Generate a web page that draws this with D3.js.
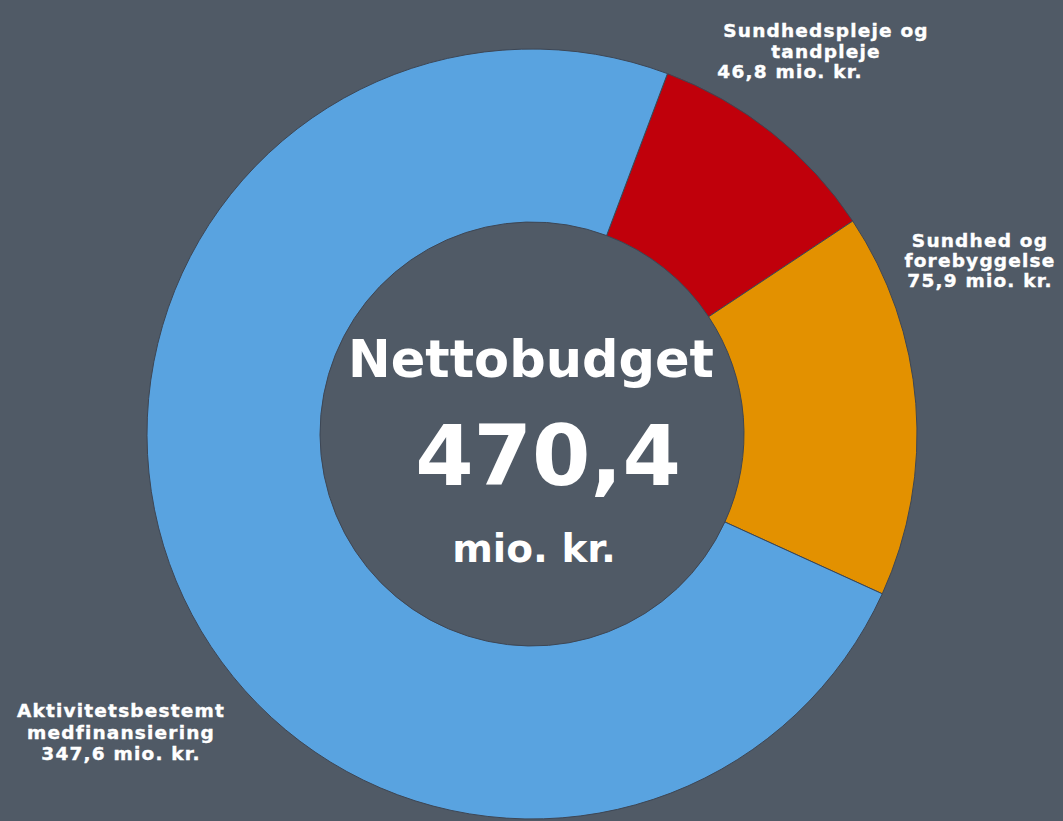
<!DOCTYPE html>
<html>
<head>
<meta charset="utf-8">
<script src="https://cdn.jsdelivr.net/npm/d3@7"></script>
<style>
  html, body { margin: 0; padding: 0; background: #505a66; }
  svg { display: block; }
  text { font-family: "DejaVu Sans", Verdana, sans-serif; font-weight: bold; fill: #ffffff; }
</style>
</head>
<body>
<svg id="chart" width="1063" height="821"></svg>
<script>
// Data
const categories = ["Sundhedspleje og tandpleje", "Sundhed og forebyggelse", "Aktivitetsbestemt medfinansiering"];
const values = [46.8, 75.9, 347.6];
const valueLabels = ["46,8 mio. kr.", "75,9 mio. kr.", "347,6 mio. kr."];
const labelLines = [["Sundhedspleje og", "tandpleje"], ["Sundhed og", "forebyggelse"], ["Aktivitetsbestemt", "medfinansiering"]];
const colors = ["#c0000b", "#e39100", "#59a3e0"];
const centerTitle = "Nettobudget";
const centerValue = "470,4";
const centerUnit = "mio. kr.";

const W = 1063, H = 821;
const svg = d3.select("#chart");
svg.append("rect").attr("width", W).attr("height", H).attr("fill", "#505a66");

const cx = 532, cy = 434, rOuter = 385, rInner = 212;
const start = 20.6 * Math.PI / 180;

const pie = d3.pie().sort(null).value(d => d).startAngle(start).endAngle(start + 2 * Math.PI);
const arc = d3.arc().innerRadius(rInner).outerRadius(rOuter);
const arcs = pie(values);

const g = svg.append("g").attr("transform", `translate(${cx},${cy})`);
g.selectAll("path").data(arcs).join("path")
  .attr("d", arc)
  .attr("fill", (d, i) => colors[i])
  .attr("stroke", "#3d4654")
  .attr("stroke-width", 1);

// Slice labels
const labelPos = [
  { x: 826, y: 37, lh: 20.5, dx3: -36 },
  { x: 980, y: 247, lh: 20, dx3: 0 },
  { x: 121, y: 717, lh: 21.5, dx3: 0 }
];
categories.forEach((c, i) => {
  const p = labelPos[i];
  const t = svg.append("text")
    .attr("text-anchor", "middle")
    .attr("font-size", 18.5)
    .attr("letter-spacing", 1.2)
    .attr("stroke", "#ffffff")
    .attr("stroke-width", 0.4);
  const lines = labelLines[i].concat([valueLabels[i]]);
  lines.forEach((ln, j) => {
    t.append("tspan")
      .attr("x", p.x + (j === 2 ? p.dx3 : 0))
      .attr("y", p.y + j * p.lh)
      .text(ln);
  });
});

// Center text
svg.append("text").attr("x", 531).attr("y", 377).attr("text-anchor", "middle")
  .attr("font-size", 51).text(centerTitle);
svg.append("text").attr("x", 548).attr("y", 485).attr("text-anchor", "middle")
  .attr("font-size", 84).text(centerValue);
svg.append("text").attr("x", 534).attr("y", 562).attr("text-anchor", "middle")
  .attr("font-size", 39).text(centerUnit);
</script>
</body>
</html>
